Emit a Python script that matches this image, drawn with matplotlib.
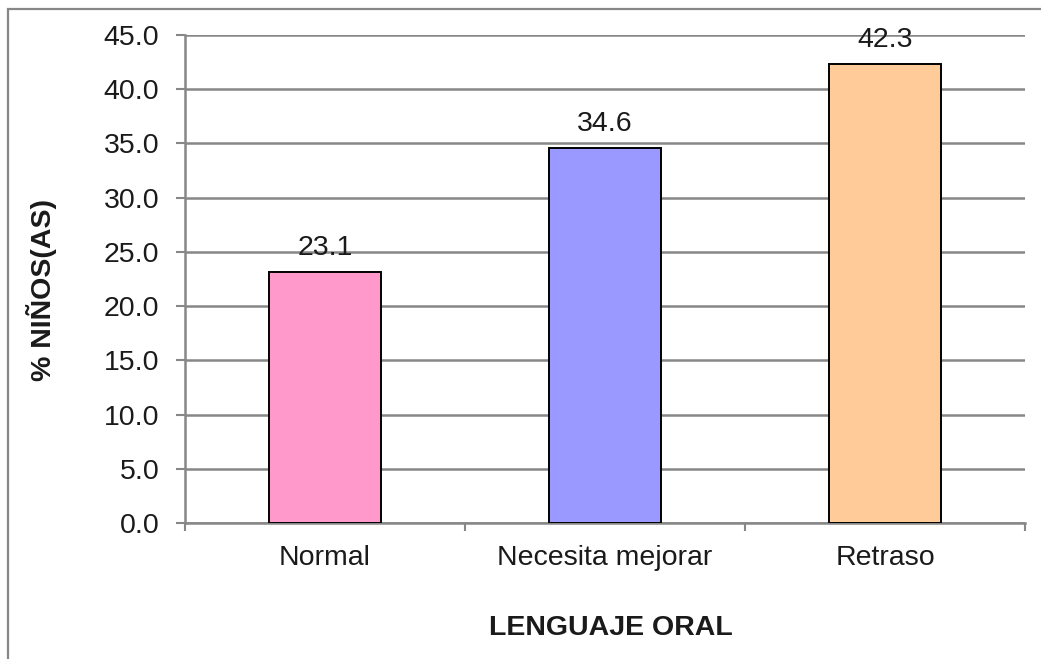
import matplotlib
matplotlib.use("Agg")
import matplotlib.pyplot as plt
from matplotlib.patches import Rectangle
from matplotlib.ticker import FixedLocator, MultipleLocator

categories = ["Normal", "Necesita mejorar", "Retraso"]
values = [23.1, 34.6, 42.3]
colors = ["#FF99CC", "#9999FF", "#FFCC99"]

plt.rcParams['font.family'] = ['Liberation Sans', 'DejaVu Sans']
FS = 20.5

fig = plt.figure(figsize=(10.41, 6.59), dpi=100)
fig.patches.append(Rectangle((8/1041, -0.1), 1.2, 1 - 9/659 + 0.1, transform=fig.transFigure,
                             fill=False, edgecolor="#878787", linewidth=1.6, zorder=0))
ax = fig.add_axes([185/1041, 1 - 523/659, (1025-185)/1041, (523-35)/659])

x = list(range(len(categories)))
ax.bar(x, values, width=0.4, color=colors, edgecolor="black", linewidth=1.4, zorder=3)
for xi, v in zip(x, values):
    ax.annotate(f"{v:.1f}", (xi, v), xytext=(0, 8), textcoords="offset points",
                ha="center", va="bottom", fontsize=FS, color="#1a1a1a", zorder=4)

ax.set_xlim(-0.5, 2.5)
ax.set_ylim(0, 45)
ax.yaxis.set_major_locator(MultipleLocator(5))
ax.set_yticklabels([f"{t:.1f}" for t in ax.get_yticks()])
ax.set_xticks(x)
ax.set_xticklabels(categories)
ax.xaxis.set_minor_locator(FixedLocator([-0.5, 0.5, 1.5, 2.5]))
ax.tick_params(axis="x", which="major", length=0, pad=16, labelsize=FS, colors="#1a1a1a")
ax.tick_params(axis="x", which="minor", length=6, width=1.5, color="#878787", direction="out")
ax.tick_params(axis="y", length=6.5, width=1.5, color="#878787", pad=12, labelsize=FS, labelcolor="#1a1a1a")

ax.grid(axis="y", color="#878787", linewidth=1.8, zorder=0)
ax.set_axisbelow(True)
for s in ["top", "right"]:
    ax.spines[s].set_visible(False)
for s in ["left", "bottom"]:
    ax.spines[s].set_color("#878787")
    ax.spines[s].set_linewidth(1.8)

fig.text(42/1041, 1 - 290/659, "% NIÑOS(AS)", rotation=90, ha="center", va="center",
         fontsize=FS, fontweight="bold", color="#1a1a1a")
fig.text(611/1041, 1 - 628/659, "LENGUAJE ORAL", ha="center", va="center",
         fontsize=FS, fontweight="bold", color="#1a1a1a")

fig.savefig("out.png", dpi=100)
